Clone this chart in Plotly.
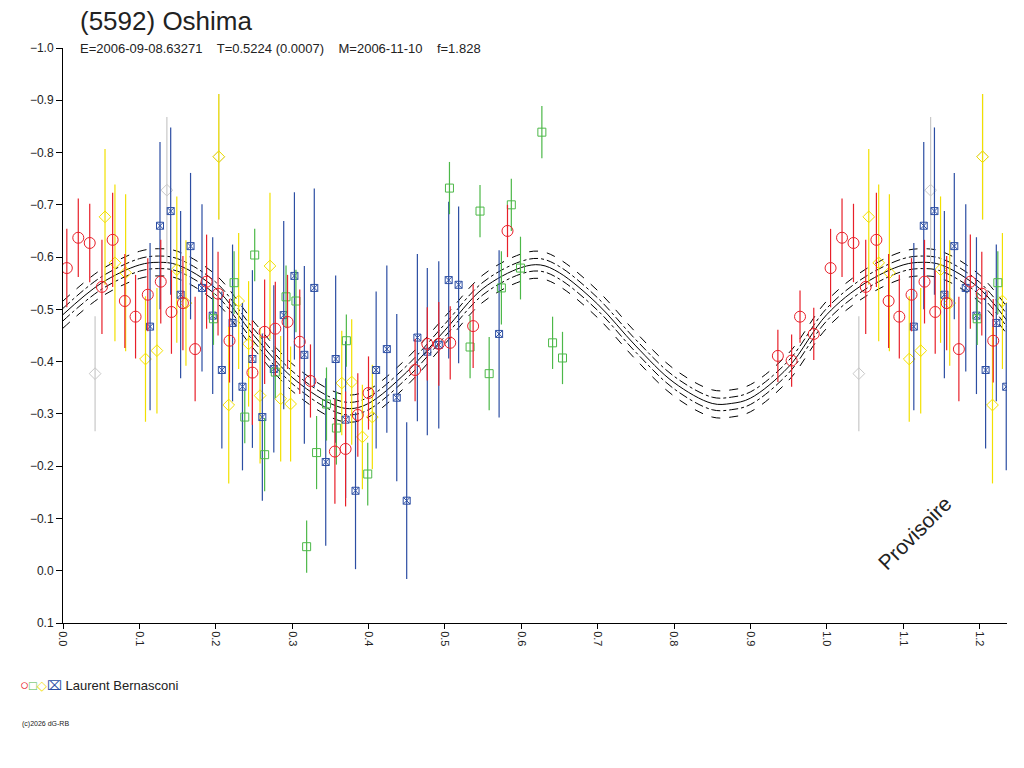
import plotly.graph_objects as go

# ---- fitted curve (phase, mag) ----
curve_phase = [0.0, 0.05, 0.1, 0.125, 0.15, 0.2, 0.25, 0.3, 0.35, 0.375, 0.4, 0.45, 0.5,
               0.55, 0.6, 0.625, 0.65, 0.7, 0.75, 0.8, 0.85, 0.875, 0.9, 0.95, 1.0,
               1.05, 1.1, 1.125, 1.15, 1.2, 1.25]
curve_mag = [-0.49, -0.55, -0.585, -0.59, -0.585, -0.54, -0.45, -0.37, -0.32, -0.31, -0.32, -0.38, -0.46,
             -0.54, -0.58, -0.585, -0.57, -0.51, -0.43, -0.36, -0.32, -0.32, -0.33, -0.39, -0.49,
             -0.55, -0.585, -0.59, -0.585, -0.54, -0.45]
band_inner = 0.012
band_outer = 0.026

# ---- observations (phase, mag, error) ----
red_phase = [0.005, 0.020, 0.035, 0.051, 0.065, 0.081, 0.095, 0.111, 0.128, 0.142, 0.157, 0.173, 0.188,
             0.203, 0.218, 0.248, 0.264, 0.278, 0.294, 0.310, 0.324, 0.356, 0.370, 0.386, 0.400, 0.461,
             0.477, 0.492, 0.507, 0.537, 0.582, 0.936, 0.954, 0.965, 0.983]
red_mag = [-0.579, -0.637, -0.627, -0.543, -0.633, -0.516, -0.486, -0.528, -0.553, -0.495, -0.512, -0.424, -0.553,
           -0.530, -0.440, -0.379, -0.457, -0.463, -0.476, -0.438, -0.363, -0.228, -0.233, -0.298, -0.340, -0.384,
           -0.434, -0.434, -0.436, -0.468, -0.650, -0.411, -0.402, -0.486, -0.453]
red_err = [0.075, 0.075, 0.075, 0.09, 0.09, 0.09, 0.08, 0.07, 0.08, 0.08, 0.09, 0.1, 0.09,
           0.08, 0.08, 0.1, 0.1, 0.09, 0.09, 0.1, 0.07, 0.1, 0.11, 0.08, 0.07, 0.06,
           0.07, 0.08, 0.07, 0.08, 0.05, 0.05, 0.05, 0.05, 0.05]

green_phase = [0.251, 0.224, 0.197, 0.292, 0.305, 0.278, 0.238, 0.264, 0.332, 0.319, 0.345, 0.358, 0.371,
               0.399, 0.506, 0.546, 0.533, 0.558, 0.574, 0.587, 0.599, 0.627, 0.641, 0.654]
green_mag = [-0.604, -0.551, -0.482, -0.524, -0.516, -0.380, -0.294, -0.222, -0.226, -0.046, -0.319, -0.273, -0.440,
             -0.185, -0.732, -0.688, -0.428, -0.377, -0.541, -0.700, -0.579, -0.839, -0.436, -0.407]
green_err = [0.05, 0.06, 0.05, 0.06, 0.06, 0.05, 0.05, 0.07, 0.07, 0.05, 0.07, 0.07, 0.05,
             0.06, 0.05, 0.05, 0.06, 0.07, 0.07, 0.05, 0.06, 0.05, 0.05, 0.05]

yellow_phase = [0.055, 0.068, 0.082, 0.108, 0.123, 0.149, 0.161, 0.204, 0.217, 0.230, 0.243, 0.258, 0.271,
                0.285, 0.298, 0.365, 0.378, 0.392, 0.405]
yellow_mag = [-0.677, -0.589, -0.570, -0.405, -0.421, -0.576, -0.512, -0.792, -0.317, -0.516, -0.434, -0.335, -0.583,
              -0.329, -0.319, -0.359, -0.361, -0.256, -0.294]
yellow_err = [0.13, 0.15, 0.15, 0.12, 0.12, 0.14, 0.12, 0.12, 0.15, 0.13, 0.12, 0.13, 0.14,
              0.12, 0.11, 0.1, 0.12, 0.1, 0.1]

grey_phase = [0.042, 0.136, 0.204]
grey_mag = [-0.377, -0.728, -0.792]
grey_err = [0.11, 0.14, 0.12]

blue_phase = [0.127, 0.141, 0.167, 0.114, 0.154, 0.182, 0.196, 0.222, 0.208, 0.235, 0.248, 0.261, 0.276,
              0.289, 0.303, 0.329, 0.316, 0.357, 0.344, 0.370, 0.383, 0.410, 0.424, 0.437, 0.450,
              0.464, 0.477, 0.492, 0.505, 0.518, 0.571]
blue_mag = [-0.660, -0.688, -0.621, -0.467, -0.528, -0.541, -0.488, -0.474, -0.384, -0.352, -0.405, -0.294, -0.386,
            -0.489, -0.564, -0.541, -0.413, -0.405, -0.208, -0.289, -0.153, -0.384, -0.424, -0.331, -0.134,
            -0.446, -0.419, -0.432, -0.556, -0.547, -0.453]
blue_err = [0.16, 0.16, 0.14, 0.16, 0.16, 0.16, 0.15, 0.15, 0.15, 0.16, 0.17, 0.16, 0.16,
            0.18, 0.16, 0.19, 0.17, 0.16, 0.16, 0.15, 0.15, 0.15, 0.16, 0.16, 0.15,
            0.16, 0.16, 0.16, 0.15, 0.15, 0.16]

X_MAX = 1.236

# plot box in page pixels (page has an 8px body margin)
L, R, T, B = 63, 1007, 48, 623


def wrap(ph, mg, er):
    # phases below X_MAX-1 are shown again after 1.0
    xs, ys, es = list(ph), list(mg), list(er)
    for p, m, e in zip(ph, mg, er):
        if p + 1 <= X_MAX:
            xs.append(p + 1)
            ys.append(m)
            es.append(e)
    return xs, ys, es


def px(x):
    return (x - L) / (R - L)


def py(y):
    return (B - y) / (B - T)


fig = go.Figure()

for off, dash in [(-band_outer, "dash"), (-band_inner, "dashdot"), (0, "solid"),
                  (band_inner, "dashdot"), (band_outer, "dash")]:
    fig.add_trace(go.Scatter(
        x=curve_phase, y=[m + off for m in curve_mag], mode="lines",
        line=dict(color="black", width=1, dash=dash, shape="spline"),
        hoverinfo="skip"))

series = [
    (grey_phase, grey_mag, grey_err, "#c8c8c8", "diamond-open", 9),
    (yellow_phase, yellow_mag, yellow_err, "#f2e000", "diamond-open", 9),
    (blue_phase, blue_mag, blue_err, "#2c4ea3", "square-x-open", 7),
    (green_phase, green_mag, green_err, "#4cb848", "square-open", 8),
    (red_phase, red_mag, red_err, "#e8202a", "circle-open", 11),
]
for ph, mg, er, col, sym, size in series:
    xs, ys, es = wrap(ph, mg, er)
    fig.add_trace(go.Scatter(
        x=xs, y=ys, mode="markers",
        marker=dict(symbol=sym, color=col, size=size, line=dict(width=1, color=col)),
        error_y=dict(type="data", array=es, color=col, thickness=1.2, width=0)))

fig.update_layout(
    width=1024, height=768, showlegend=False,
    paper_bgcolor="white", plot_bgcolor="white",
    margin=dict(l=L - 8, r=1024 + 8 - R, t=T - 8, b=768 + 8 - B),
    font=dict(family="Liberation Sans, Arial, sans-serif", size=12, color="#222"),
    xaxis=dict(range=[0, X_MAX], dtick=0.1, tick0=0, tickformat=".1f", tickangle=90,
               showgrid=False, zeroline=False, showline=True, linecolor="black",
               ticks="outside", ticklen=5, tickcolor="black", tickfont=dict(size=11)),
    yaxis=dict(range=[0.1, -1.0], dtick=0.1, tickformat=".1f",
               showgrid=False, zeroline=False, showline=True, linecolor="black",
               ticks="outside", ticklen=6, tickcolor="black", tickfont=dict(size=12)),
)
fig.add_annotation(text="(5592) Oshima", x=px(78), y=py(21), xref="paper", yref="paper",
                   xanchor="left", yanchor="middle", showarrow=False, font=dict(size=26))
fig.add_annotation(text="E=2006-09-08.63271    T=0.5224 (0.0007)    M=2006-11-10    f=1.828",
                   x=px(78), y=py(48), xref="paper", yref="paper",
                   xanchor="left", yanchor="middle", showarrow=False, font=dict(size=13))
fig.add_annotation(text="Provisoire", x=px(958), y=py(577), xref="paper", yref="paper",
                   showarrow=False, textangle=-45, font=dict(size=21))
fig.add_annotation(
    text="<span style='color:#e8202a;font-size:15px'>○</span><span style='color:#4cb848'>□</span>"
         "<span style='color:#f2e000'>◇</span><span style='color:#2c4ea3'>⌧</span> Laurent Bernasconi",
    x=px(18), y=py(684), xref="paper", yref="paper",
    xanchor="left", yanchor="middle", showarrow=False, font=dict(size=13))
fig.add_annotation(text="(c)2026 dG-RB", x=px(20), y=py(724), xref="paper", yref="paper",
                   xanchor="left", yanchor="middle", showarrow=False, font=dict(size=7))

fig.write_html("out.html")
